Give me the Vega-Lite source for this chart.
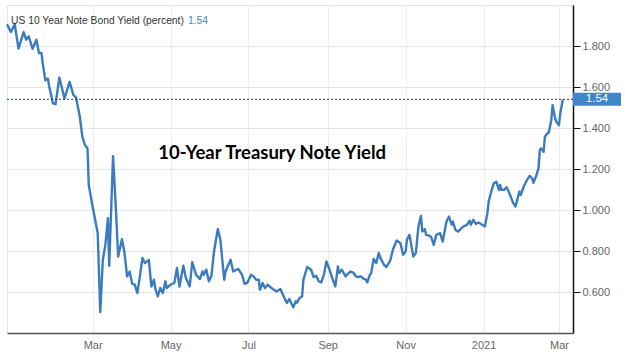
{
  "$schema": "https://vega.github.io/schema/vega-lite/v6.json",
  "width": 566,
  "height": 328,
  "autosize": "none",
  "padding": {"left": 7, "top": 5, "right": 52, "bottom": 25},
  "background": "white",
  "config": {"view": {"stroke": "#e3e3e3"}, "font": "Liberation Sans"},
  "datasets": {
    "yield": [
      {"date": "2019-12-25", "yield": 1.906}, {"date": "2019-12-28", "yield": 1.868}, {"date": "2019-12-31", "yield": 1.906},
      {"date": "2020-01-03", "yield": 1.787}, {"date": "2020-01-07", "yield": 1.868}, {"date": "2020-01-09", "yield": 1.831},
      {"date": "2020-01-11", "yield": 1.847}, {"date": "2020-01-14", "yield": 1.787}, {"date": "2020-01-17", "yield": 1.831},
      {"date": "2020-01-19", "yield": 1.766}, {"date": "2020-01-21", "yield": 1.766}, {"date": "2020-01-22", "yield": 1.714},
      {"date": "2020-01-24", "yield": 1.633}, {"date": "2020-01-26", "yield": 1.641}, {"date": "2020-01-27", "yield": 1.604},
      {"date": "2020-01-30", "yield": 1.520}, {"date": "2020-02-01", "yield": 1.516}, {"date": "2020-02-04", "yield": 1.646},
      {"date": "2020-02-08", "yield": 1.544}, {"date": "2020-02-12", "yield": 1.625}, {"date": "2020-02-15", "yield": 1.560},
      {"date": "2020-02-17", "yield": 1.549}, {"date": "2020-02-20", "yield": 1.455}, {"date": "2020-02-22", "yield": 1.357},
      {"date": "2020-02-24", "yield": 1.317}, {"date": "2020-02-26", "yield": 1.301}, {"date": "2020-02-27", "yield": 1.122},
      {"date": "2020-03-01", "yield": 1.017}, {"date": "2020-03-03", "yield": 0.952}, {"date": "2020-03-05", "yield": 0.887},
      {"date": "2020-03-07", "yield": 0.501}, {"date": "2020-03-09", "yield": 0.757}, {"date": "2020-03-11", "yield": 0.830},
      {"date": "2020-03-13", "yield": 0.960}, {"date": "2020-03-14", "yield": 0.728}, {"date": "2020-03-17", "yield": 1.263},
      {"date": "2020-03-19", "yield": 1.033}, {"date": "2020-03-21", "yield": 0.773}, {"date": "2020-03-24", "yield": 0.858},
      {"date": "2020-03-26", "yield": 0.790}, {"date": "2020-03-28", "yield": 0.676}, {"date": "2020-03-30", "yield": 0.700},
      {"date": "2020-04-01", "yield": 0.640}, {"date": "2020-04-03", "yield": 0.636}, {"date": "2020-04-05", "yield": 0.595},
      {"date": "2020-04-07", "yield": 0.676}, {"date": "2020-04-09", "yield": 0.766}, {"date": "2020-04-11", "yield": 0.741},
      {"date": "2020-04-14", "yield": 0.757}, {"date": "2020-04-16", "yield": 0.627}, {"date": "2020-04-18", "yield": 0.660},
      {"date": "2020-04-19", "yield": 0.619}, {"date": "2020-04-21", "yield": 0.579}, {"date": "2020-04-23", "yield": 0.619},
      {"date": "2020-04-25", "yield": 0.595}, {"date": "2020-04-27", "yield": 0.652}, {"date": "2020-04-28", "yield": 0.619},
      {"date": "2020-05-01", "yield": 0.636}, {"date": "2020-05-04", "yield": 0.644}, {"date": "2020-05-06", "yield": 0.717},
      {"date": "2020-05-08", "yield": 0.627}, {"date": "2020-05-11", "yield": 0.728}, {"date": "2020-05-13", "yield": 0.669},
      {"date": "2020-05-16", "yield": 0.627}, {"date": "2020-05-18", "yield": 0.746}, {"date": "2020-05-21", "yield": 0.684},
      {"date": "2020-05-24", "yield": 0.663}, {"date": "2020-05-26", "yield": 0.700}, {"date": "2020-05-27", "yield": 0.684},
      {"date": "2020-05-29", "yield": 0.709}, {"date": "2020-05-31", "yield": 0.652}, {"date": "2020-06-02", "yield": 0.679},
      {"date": "2020-06-04", "yield": 0.796}, {"date": "2020-06-07", "yield": 0.907}, {"date": "2020-06-09", "yield": 0.855},
      {"date": "2020-06-12", "yield": 0.660}, {"date": "2020-06-13", "yield": 0.700}, {"date": "2020-06-17", "yield": 0.757},
      {"date": "2020-06-19", "yield": 0.700}, {"date": "2020-06-23", "yield": 0.713}, {"date": "2020-06-26", "yield": 0.684},
      {"date": "2020-06-28", "yield": 0.640}, {"date": "2020-06-30", "yield": 0.644}, {"date": "2020-07-03", "yield": 0.684},
      {"date": "2020-07-05", "yield": 0.676}, {"date": "2020-07-07", "yield": 0.660}, {"date": "2020-07-09", "yield": 0.660},
      {"date": "2020-07-10", "yield": 0.611}, {"date": "2020-07-12", "yield": 0.644}, {"date": "2020-07-14", "yield": 0.619},
      {"date": "2020-07-16", "yield": 0.636}, {"date": "2020-07-18", "yield": 0.624}, {"date": "2020-07-20", "yield": 0.615},
      {"date": "2020-07-23", "yield": 0.603}, {"date": "2020-07-26", "yield": 0.615}, {"date": "2020-07-28", "yield": 0.587},
      {"date": "2020-07-31", "yield": 0.546}, {"date": "2020-08-02", "yield": 0.566}, {"date": "2020-08-05", "yield": 0.525},
      {"date": "2020-08-07", "yield": 0.555}, {"date": "2020-08-08", "yield": 0.548}, {"date": "2020-08-10", "yield": 0.571},
      {"date": "2020-08-12", "yield": 0.578}, {"date": "2020-08-13", "yield": 0.660}, {"date": "2020-08-16", "yield": 0.722},
      {"date": "2020-08-19", "yield": 0.709}, {"date": "2020-08-21", "yield": 0.673}, {"date": "2020-08-23", "yield": 0.679},
      {"date": "2020-08-25", "yield": 0.652}, {"date": "2020-08-27", "yield": 0.647}, {"date": "2020-08-29", "yield": 0.684},
      {"date": "2020-08-31", "yield": 0.749}, {"date": "2020-09-02", "yield": 0.717}, {"date": "2020-09-05", "yield": 0.660},
      {"date": "2020-09-07", "yield": 0.627}, {"date": "2020-09-09", "yield": 0.725}, {"date": "2020-09-10", "yield": 0.692},
      {"date": "2020-09-12", "yield": 0.709}, {"date": "2020-09-15", "yield": 0.676}, {"date": "2020-09-16", "yield": 0.684},
      {"date": "2020-09-19", "yield": 0.700}, {"date": "2020-09-21", "yield": 0.695}, {"date": "2020-09-23", "yield": 0.676},
      {"date": "2020-09-25", "yield": 0.673}, {"date": "2020-09-27", "yield": 0.676}, {"date": "2020-09-29", "yield": 0.665},
      {"date": "2020-10-01", "yield": 0.660}, {"date": "2020-10-02", "yield": 0.647}, {"date": "2020-10-04", "yield": 0.684},
      {"date": "2020-10-05", "yield": 0.692}, {"date": "2020-10-07", "yield": 0.761}, {"date": "2020-10-09", "yield": 0.741},
      {"date": "2020-10-11", "yield": 0.790}, {"date": "2020-10-12", "yield": 0.770}, {"date": "2020-10-15", "yield": 0.733},
      {"date": "2020-10-17", "yield": 0.722}, {"date": "2020-10-20", "yield": 0.754}, {"date": "2020-10-22", "yield": 0.806},
      {"date": "2020-10-25", "yield": 0.851}, {"date": "2020-10-28", "yield": 0.838}, {"date": "2020-10-30", "yield": 0.782},
      {"date": "2020-11-01", "yield": 0.798}, {"date": "2020-11-02", "yield": 0.855}, {"date": "2020-11-04", "yield": 0.879},
      {"date": "2020-11-07", "yield": 0.773}, {"date": "2020-11-09", "yield": 0.790}, {"date": "2020-11-11", "yield": 0.919},
      {"date": "2020-11-13", "yield": 0.971}, {"date": "2020-11-14", "yield": 0.895}, {"date": "2020-11-16", "yield": 0.907},
      {"date": "2020-11-17", "yield": 0.879}, {"date": "2020-11-20", "yield": 0.874}, {"date": "2020-11-21", "yield": 0.868},
      {"date": "2020-11-23", "yield": 0.830}, {"date": "2020-11-25", "yield": 0.879}, {"date": "2020-11-28", "yield": 0.887},
      {"date": "2020-11-30", "yield": 0.846}, {"date": "2020-12-03", "yield": 0.944}, {"date": "2020-12-05", "yield": 0.968},
      {"date": "2020-12-07", "yield": 0.928}, {"date": "2020-12-08", "yield": 0.944}, {"date": "2020-12-10", "yield": 0.903},
      {"date": "2020-12-12", "yield": 0.895}, {"date": "2020-12-14", "yield": 0.907}, {"date": "2020-12-16", "yield": 0.919},
      {"date": "2020-12-19", "yield": 0.928}, {"date": "2020-12-21", "yield": 0.948}, {"date": "2020-12-22", "yield": 0.928},
      {"date": "2020-12-24", "yield": 0.952}, {"date": "2020-12-26", "yield": 0.932}, {"date": "2020-12-28", "yield": 0.939},
      {"date": "2020-12-31", "yield": 0.928}, {"date": "2021-01-02", "yield": 0.919}, {"date": "2021-01-04", "yield": 0.985},
      {"date": "2021-01-05", "yield": 1.041}, {"date": "2021-01-07", "yield": 1.090}, {"date": "2021-01-09", "yield": 1.130},
      {"date": "2021-01-11", "yield": 1.138}, {"date": "2021-01-13", "yield": 1.098}, {"date": "2021-01-14", "yield": 1.122},
      {"date": "2021-01-15", "yield": 1.098}, {"date": "2021-01-17", "yield": 1.098}, {"date": "2021-01-19", "yield": 1.111},
      {"date": "2021-01-21", "yield": 1.085}, {"date": "2021-01-23", "yield": 1.053}, {"date": "2021-01-24", "yield": 1.036},
      {"date": "2021-01-26", "yield": 1.017}, {"date": "2021-01-28", "yield": 1.065}, {"date": "2021-01-29", "yield": 1.090},
      {"date": "2021-01-30", "yield": 1.073}, {"date": "2021-02-01", "yield": 1.106}, {"date": "2021-02-02", "yield": 1.122},
      {"date": "2021-02-04", "yield": 1.146}, {"date": "2021-02-06", "yield": 1.166}, {"date": "2021-02-08", "yield": 1.155},
      {"date": "2021-02-09", "yield": 1.133}, {"date": "2021-02-11", "yield": 1.163}, {"date": "2021-02-13", "yield": 1.203},
      {"date": "2021-02-14", "yield": 1.292}, {"date": "2021-02-15", "yield": 1.301}, {"date": "2021-02-17", "yield": 1.284},
      {"date": "2021-02-18", "yield": 1.357}, {"date": "2021-02-20", "yield": 1.374}, {"date": "2021-02-21", "yield": 1.377},
      {"date": "2021-02-23", "yield": 1.438}, {"date": "2021-02-24", "yield": 1.511}, {"date": "2021-02-26", "yield": 1.447},
      {"date": "2021-02-27", "yield": 1.430}, {"date": "2021-03-01", "yield": 1.414}, {"date": "2021-03-02", "yield": 1.471},
      {"date": "2021-03-04", "yield": 1.539}
    ]
  },
  "layer": [
    {
      "data": {"name": "yield"},
      "mark": {"type": "line", "color": "#3b7cbf", "strokeWidth": 2.4, "strokeJoin": "round"},
      "encoding": {
        "x": {
          "field": "date", "type": "temporal",
          "scale": {
            "type": "utc", "nice": false,
            "domain": [
              {"year": 2019, "month": 12, "date": 25, "utc": true},
              {"year": 2021, "month": 3, "date": 12, "utc": true}
            ]
          },
          "axis": {
            "title": null, "ticks": false, "labelOverlap": false, "labelFlush": false,
            "values": [
              {"year": 2020, "month": 3, "date": 1, "utc": true},
              {"year": 2020, "month": 5, "date": 1, "utc": true},
              {"year": 2020, "month": 7, "date": 1, "utc": true},
              {"year": 2020, "month": 9, "date": 1, "utc": true},
              {"year": 2020, "month": 11, "date": 1, "utc": true},
              {"year": 2021, "month": 1, "date": 1, "utc": true},
              {"year": 2021, "month": 3, "date": 1, "utc": true}
            ],
            "labelExpr": "utcFormat(datum.value, '%m') == '01' ? utcFormat(datum.value, '%Y') : utcFormat(datum.value, '%b')",
            "domainColor": "#555555", "domainWidth": 1.5,
            "gridColor": "#ececec", "gridWidth": 1,
            "labelColor": "#666666", "labelFontSize": 11, "labelPadding": 6, "labelFont": "Liberation Sans"
          }
        },
        "y": {
          "field": "yield", "type": "quantitative",
          "scale": {"domain": [0.4, 2.0], "zero": false, "nice": false},
          "axis": {
            "orient": "right", "title": null,
            "values": [0.6, 0.8, 1.0, 1.2, 1.4, 1.6, 1.8],
            "format": ".3f",
            "domainColor": "#111111", "domainWidth": 1.5,
            "tickColor": "#111111", "tickSize": 7, "tickWidth": 1,
            "labelPadding": 2, "labelColor": "#666666", "labelFontSize": 11, "labelFont": "Liberation Sans",
            "gridColor": "#e6e6e6", "gridWidth": 1
          }
        }
      }
    },
    {
      "data": {"values": [{}]},
      "mark": {"type": "rule", "color": "#1f3d7a", "strokeDash": [2, 2], "strokeWidth": 1},
      "encoding": {"y": {"datum": 1.54}}
    },
    {
      "data": {"values": [{}]},
      "mark": {"type": "point", "shape": "M0,-0.27H2V0.27H0Z", "size": 2304, "filled": true, "color": "#3f86c8", "opacity": 1, "strokeWidth": 0},
      "encoding": {
        "x": {"datum": {"year": 2021, "month": 3, "date": 12, "utc": true}, "type": "temporal"},
        "y": {"datum": 1.54}
      }
    },
    {
      "data": {"values": [{}]},
      "mark": {"type": "text", "text": "1.54", "dx": 24, "align": "center", "baseline": "middle", "color": "white", "fontSize": 11.5, "font": "Liberation Sans"},
      "encoding": {
        "x": {"datum": {"year": 2021, "month": 3, "date": 12, "utc": true}, "type": "temporal"},
        "y": {"datum": 1.54}
      }
    },
    {
      "data": {"values": [{}]},
      "mark": {"type": "text", "text": "US 10 Year Note Bond Yield (percent)", "dx": 4, "align": "left", "baseline": "alphabetic", "color": "#333333", "fontSize": 10.3, "font": "Liberation Sans"},
      "encoding": {
        "x": {"datum": {"year": 2019, "month": 12, "date": 25, "utc": true}, "type": "temporal"},
        "y": {"datum": 1.905}
      }
    },
    {
      "data": {"values": [{}]},
      "mark": {"type": "text", "text": "1.54", "dx": 181, "align": "left", "baseline": "alphabetic", "color": "#4a86c0", "fontSize": 10.3, "font": "Liberation Sans"},
      "encoding": {
        "x": {"datum": {"year": 2019, "month": 12, "date": 25, "utc": true}, "type": "temporal"},
        "y": {"datum": 1.905}
      }
    },
    {
      "data": {"values": [{}]},
      "mark": {"type": "text", "text": "10-Year Treasury Note Yield", "align": "center", "baseline": "alphabetic", "color": "#000000", "fontSize": 18.5, "fontWeight": "bold", "font": "Lato"},
      "encoding": {
        "x": {"datum": {"year": 2020, "month": 7, "date": 19, "hours": 14, "utc": true}, "type": "temporal"},
        "y": {"datum": 1.247}
      }
    }
  ]
}
